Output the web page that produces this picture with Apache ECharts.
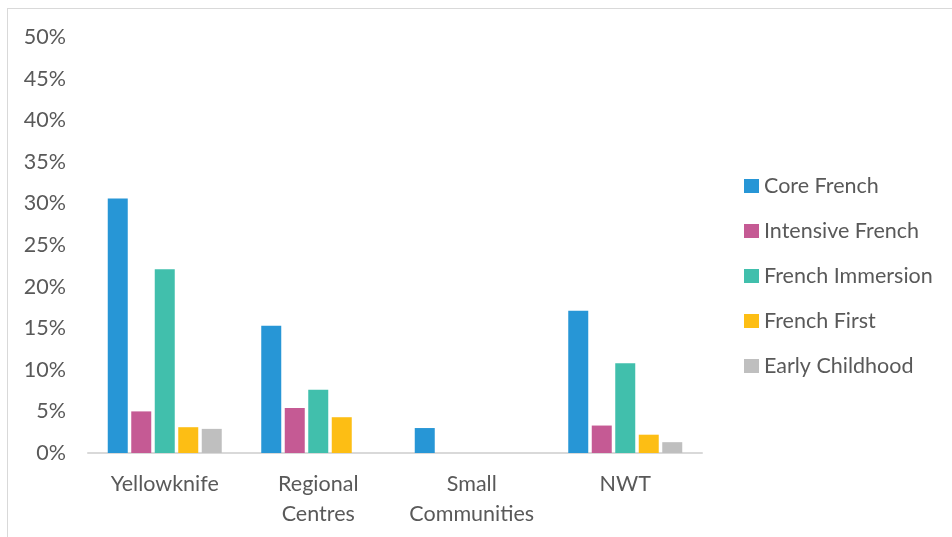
<!DOCTYPE html>
<html>
<head>
<meta charset="utf-8">
<script src="https://cdn.jsdelivr.net/npm/echarts@6/dist/echarts.min.js"></script>
<style>
  html, body { margin: 0; padding: 0; background: #fff; }
  #frame { position: absolute; left: 7px; top: 8px; width: 950px; height: 540px; border: 1px solid #d9d9d9; box-sizing: border-box; }
  #chart { position: absolute; left: 0; top: 0; width: 952px; height: 537px; }
</style>
</head>
<body>
<div id="frame"></div>
<div id="chart"></div>
<script>
// Share of students by French programme, by region (percent)
const regions = ['Yellowknife', 'Regional\nCentres', 'Small\nCommunities', 'NWT'];
const coreFrench      = [30.6, 15.3, 3.0, 17.1];
const intensiveFrench = [5.0, 5.4, null, 3.3];
const frenchImmersion = [22.1, 7.6, null, 10.8];
const frenchFirst     = [3.1, 4.3, null, 2.2];
const earlyChildhood  = [2.9, null, null, 1.3];

const seriesNames  = ['Core French', 'Intensive French', 'French Immersion', 'French First', 'Early Childhood'];
const seriesData   = [coreFrench, intensiveFrench, frenchImmersion, frenchFirst, earlyChildhood];
const seriesColors = ['#2796D6', '#C55A94', '#41BFAC', '#FDBE14', '#BFBFBF'];

const FONT = 'Lato';
const SIZE = 21.5;
const chart = echarts.init(document.getElementById('chart'));
chart.setOption({
  animation: false,
  textStyle: { fontFamily: FONT },
  grid: { left: 88, right: 250, top: 37, bottom: 84 },
  legend: {
    orient: 'vertical',
    left: 739,
    top: 170,
    itemWidth: 15,
    itemHeight: 14,
    itemGap: 23,
    icon: 'rect',
    textStyle: { fontFamily: FONT, fontSize: SIZE, color: '#595959', lineHeight: 22 },
    data: seriesNames
  },
  xAxis: {
    type: 'category',
    data: regions,
    axisLine: { lineStyle: { color: '#d9d9d9', width: 2 } },
    axisTick: { show: false },
    axisLabel: { fontFamily: FONT, fontSize: SIZE, color: '#595959', lineHeight: 30, margin: 16, interval: 0 }
  },
  yAxis: {
    type: 'value',
    min: 0,
    max: 50,
    interval: 5,
    splitLine: { show: false },
    axisLine: { show: false },
    axisTick: { show: false },
    axisLabel: { formatter: '{value}%', fontFamily: FONT, fontSize: SIZE, color: '#595959', margin: 22 }
  },
  series: seriesNames.map((name, i) => ({
    name: name,
    type: 'bar',
    data: seriesData[i],
    barWidth: 20,
    barGap: '17.5%',
    itemStyle: { color: seriesColors[i] }
  }))
});
</script>
</body>
</html>
